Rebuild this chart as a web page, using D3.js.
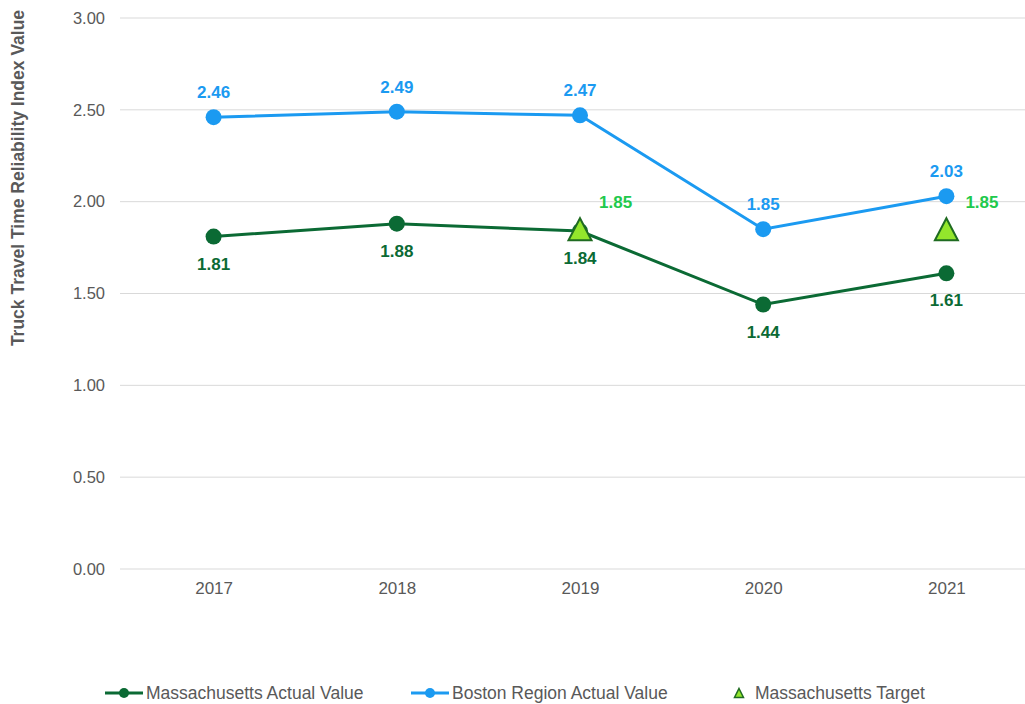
<!DOCTYPE html>
<html>
<head>
<meta charset="utf-8">
<script src="https://cdn.jsdelivr.net/npm/d3@7"></script>
<style>
  html, body { margin: 0; padding: 0; background: #fff; }
  svg { display: block; font-family: "Liberation Sans", Arial, sans-serif; }
</style>
</head>
<body>
<svg id="chart" width="1025" height="704"></svg>
<script>
// Truck Travel Time Reliability index, 2017-2021
const years = ["2017", "2018", "2019", "2020", "2021"];
const massActual = [1.81, 1.88, 1.84, 1.44, 1.61];
const bostonActual = [2.46, 2.49, 2.47, 1.85, 2.03];
const targetYears = ["2019", "2021"];
const targetValues = [1.85, 1.85];
const yTicks = [0, 0.5, 1, 1.5, 2, 2.5, 3];

const colors = {
  mass: "#0b6a34",
  boston: "#1b9af1",
  targetFill: "#93e62c",
  targetStroke: "#1f6b21",
  targetLabel: "#21c94c",
  text: "#595959",
  grid: "#d9d9d9"
};
const FONT = "'Liberation Sans', Arial, sans-serif";

const svg = d3.select("#chart");
const plot = { left: 120, right: 1038, top: 18, bottom: 569 };

const x = d3.scalePoint().domain(years).range([plot.left + 2, plot.right]).padding(0.5);
const y = d3.scaleLinear().domain([0, 3]).range([plot.bottom, plot.top]);

// horizontal gridlines
svg.append("g")
  .selectAll("line")
  .data(yTicks)
  .join("line")
  .attr("x1", plot.left).attr("x2", plot.right)
  .attr("y1", d => y(d)).attr("y2", d => y(d))
  .attr("stroke", colors.grid).attr("stroke-width", 1);

// y axis tick labels
const yAxis = svg.append("g")
  .attr("transform", `translate(${plot.left},0)`)
  .call(d3.axisLeft(y).tickValues(yTicks).tickFormat(d3.format(".2f")).tickSize(0).tickPadding(15));
yAxis.select(".domain").remove();
yAxis.selectAll("text").attr("fill", colors.text)
  .style("font-size", "16.5px").style("font-family", FONT);

// x axis tick labels
const xAxis = svg.append("g")
  .attr("transform", `translate(0,${plot.bottom})`)
  .call(d3.axisBottom(x).tickSize(0).tickPadding(0));
xAxis.select(".domain").remove();
xAxis.selectAll("text").attr("fill", colors.text)
  .attr("y", 25).attr("dy", null)
  .style("font-size", "17px").style("font-family", FONT);

// y axis title
svg.append("text")
  .attr("transform", `translate(24,178) rotate(-90)`)
  .attr("text-anchor", "middle")
  .attr("fill", colors.text)
  .style("font-size", "17.5px").style("font-weight", "bold")
  .text("Truck Travel Time Reliability Index Value");

const line = d3.line().x(d => x(d.year)).y(d => y(d.value));
const massData = years.map((yr, i) => ({ year: yr, value: massActual[i] }));
const bostonData = years.map((yr, i) => ({ year: yr, value: bostonActual[i] }));
const targetData = targetYears.map((yr, i) => ({ year: yr, value: targetValues[i] }));

function drawSeries(data, color, labelDy) {
  const g = svg.append("g");
  g.append("path").datum(data)
    .attr("d", line).attr("fill", "none")
    .attr("stroke", color).attr("stroke-width", 3);
  g.selectAll("circle").data(data).join("circle")
    .attr("cx", d => x(d.year)).attr("cy", d => y(d.value))
    .attr("r", 8).attr("fill", color);
  g.selectAll("text").data(data).join("text")
    .attr("x", d => x(d.year)).attr("y", d => y(d.value) + labelDy)
    .attr("text-anchor", "middle")
    .attr("fill", color)
    .style("font-size", "17px").style("font-weight", "bold")
    .text(d => d3.format(".2f")(d.value));
}

drawSeries(bostonData, colors.boston, -19);
drawSeries(massData, colors.mass, 33);

// target markers: triangle centred on the target value
function triangle(cx, cy, hw, h) {
  const p = d3.path();
  p.moveTo(cx, cy - h / 2);
  p.lineTo(cx + hw, cy + h / 2);
  p.lineTo(cx - hw, cy + h / 2);
  p.closePath();
  return p.toString();
}
const tg = svg.append("g");
tg.selectAll("path").data(targetData).join("path")
  .attr("d", d => triangle(x(d.year), y(d.value), 11.5, 22))
  .attr("fill", colors.targetFill)
  .attr("stroke", colors.targetStroke).attr("stroke-width", 2)
  .attr("stroke-linejoin", "miter");
tg.selectAll("text").data(targetData).join("text")
  .attr("x", d => x(d.year) + 19).attr("y", d => y(d.value) - 21)
  .attr("fill", colors.targetLabel)
  .style("font-size", "17px").style("font-weight", "bold")
  .text(d => d3.format(".2f")(d.value));

// legend along the bottom edge
const legendY = 693;
const legend = svg.append("g");
const items = [
  { label: "Massachusetts Actual Value", color: colors.mass, x: 105, type: "line" },
  { label: "Boston Region Actual Value", color: colors.boston, x: 411, type: "line" },
  { label: "Massachusetts Target", color: colors.targetStroke, x: 731, type: "tri" }
];
items.forEach(it => {
  const g = legend.append("g");
  if (it.type === "line") {
    g.append("line").attr("x1", it.x).attr("x2", it.x + 38)
      .attr("y1", legendY).attr("y2", legendY)
      .attr("stroke", it.color).attr("stroke-width", 3);
    g.append("circle").attr("cx", it.x + 19).attr("cy", legendY).attr("r", 5).attr("fill", it.color);
    g.append("text").attr("x", it.x + 41).attr("y", legendY + 6)
      .attr("fill", colors.text).style("font-size", "17.5px").text(it.label);
  } else {
    g.append("path").attr("d", triangle(it.x + 8, legendY, 4.5, 9))
      .attr("fill", colors.targetFill).attr("stroke", colors.targetStroke).attr("stroke-width", 1.5);
    g.append("text").attr("x", it.x + 24).attr("y", legendY + 6)
      .attr("fill", colors.text).style("font-size", "17.5px").text(it.label);
  }
});
</script>
</body>
</html>
